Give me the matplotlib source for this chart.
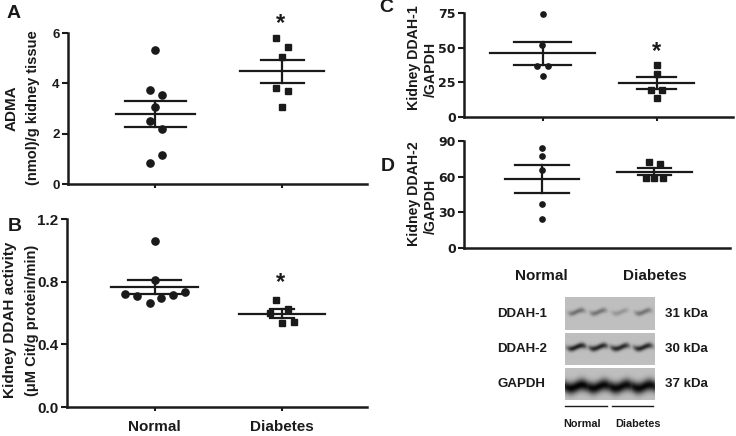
import numpy as np
import matplotlib
matplotlib.use('Agg')
import matplotlib.pyplot as plt
from matplotlib.lines import Line2D

plt.rcParams['font.family'] = ['Liberation Sans', 'DejaVu Sans']
plt.rcParams['font.weight'] = 'bold'

groups = ['Normal', 'Diabetes']

adma_normal = [5.31, 3.73, 3.55, 3.04, 2.51, 2.18, 1.15, 0.82]
adma_diabetes = [5.81, 5.44, 5.05, 3.83, 3.69, 3.06]

ddah_act_normal = [1.058, 0.810, 0.721, 0.706, 0.663, 0.697, 0.714, 0.736]
ddah_act_diabetes = [0.682, 0.601, 0.623, 0.533, 0.542]

ddah1_normal = [74.5, 52.2, 36.5, 36.5, 29.8]
ddah1_diabetes = [37.3, 31.3, 19.7, 19.7, 13.7]

ddah2_normal = [84.4, 77.4, 65.9, 37.0, 24.7]
ddah2_diabetes = [72.3, 70.6, 59.2, 59.2, 59.2]

# relative band strength per lane (Normal, Normal, Diabetes, Diabetes)
blot_rows = ['DDAH-1', 'DDAH-2', 'GAPDH']
blot_sizes = ['31 kDa', '30 kDa', '37 kDa']
blot_lanes = {
    'DDAH-1': [0.42, 0.40, 0.22, 0.40],
    'DDAH-2': [0.85, 0.82, 0.80, 0.82],
    'GAPDH': [1.0, 0.98, 0.97, 0.98],
}

W, H = 736, 436
TXT = '#1a1a1a'
fig = plt.figure(figsize=(W / 100, H / 100), dpi=100)


def px_axes(l, t, r, b):
    return fig.add_axes([l / W, 1 - b / H, (r - l) / W, (b - t) / H])


def style(ax, yticks, fmt, tsize, tfamily=None):
    for s in ['top', 'right']:
        ax.spines[s].set_visible(False)
    for s in ['left', 'bottom']:
        ax.spines[s].set_linewidth(1.8)
        ax.spines[s].set_color(TXT)
    ax.set_xlim(0.31, 2.67)
    ax.set_xticks([1, 2])
    ax.set_xticklabels([])
    ax.set_yticks(yticks)
    ax.set_yticklabels([fmt.format(v) for v in yticks], fontsize=tsize,
                       fontweight='bold', color=TXT, family=tfamily)
    ax.tick_params(axis='y', length=4, width=1.5, pad=2, color=TXT)
    ax.tick_params(axis='x', length=3, width=1.5, color=TXT)
    ax.set_ylim(yticks[0], yticks[-1])


def draw_group(ax, x, vals, offs, marker, ms, mean_hw, sem_hw):
    vals = np.asarray(vals)
    m = vals.mean()
    sem = vals.std(ddof=1) / np.sqrt(len(vals))
    ax.plot(x + np.asarray(offs), vals, marker, color=TXT, ms=ms,
            ls='none', clip_on=False, zorder=3)
    ax.plot([x - mean_hw, x + mean_hw], [m, m], color=TXT, lw=1.6, zorder=4)
    ax.plot([x - sem_hw, x + sem_hw], [m + sem, m + sem], color=TXT, lw=1.6, zorder=4)
    ax.plot([x - sem_hw, x + sem_hw], [m - sem, m - sem], color=TXT, lw=1.6, zorder=4)
    ax.plot([x, x], [m - sem, m + sem], color=TXT, lw=1.6, zorder=4)


# ---- A
axA = px_axes(68, 33, 367, 184)
style(axA, [0, 2, 4, 6], '{:.0f}', 9.5)
draw_group(axA, 1, adma_normal, [0, -0.045, 0.048, 0, -0.045, 0.048, 0.048, -0.045],
           'o', 5.2, 0.31, 0.24)
draw_group(axA, 2, adma_diabetes, [-0.048, 0.045, 0, -0.048, 0.045, 0],
           's', 4.8, 0.33, 0.17)

# ---- B
axB = px_axes(67, 219, 367, 407)
style(axB, [0.0, 0.4, 0.8, 1.2], '{:.1f}', 11)
draw_group(axB, 1, ddah_act_normal, [0, 0, -0.23, -0.137, -0.04, 0.053, 0.145, 0.238],
           'o', 5.2, 0.34, 0.21)
draw_group(axB, 2, ddah_act_diabetes, [-0.048, -0.093, 0.05, 0, 0.098],
           's', 4.8, 0.34, 0.095)
axB.set_xticklabels(groups, fontsize=11, fontweight='bold', color=TXT)
axB.tick_params(axis='x', pad=6)

# ---- C
axC = px_axes(464, 13, 733, 117)
style(axC, [0, 25, 50, 75], '{:.0f}', 9, 'DejaVu Sans')
draw_group(axC, 1, ddah1_normal, [0, -0.01, -0.05, 0.05, 0], 'o', 3.8, 0.46, 0.25)
draw_group(axC, 2, ddah1_diabetes, [0, 0, -0.048, 0.048, 0], 's', 3.8, 0.33, 0.17)

# ---- D
axD = px_axes(464, 141, 730, 248)
style(axD, [0, 30, 60, 90], '{:.0f}', 9, 'DejaVu Sans')
draw_group(axD, 1, ddah2_normal, [0, 0, 0, 0, 0], 'o', 3.8, 0.33, 0.24)
draw_group(axD, 2, ddah2_diabetes, [-0.05, 0.045, -0.072, 0, 0.072], 's', 3.8, 0.33, 0.15)
axD.set_xticklabels(groups, fontsize=11, fontweight='bold', color=TXT)
axD.tick_params(axis='x', pad=15, length=0)


def ftext(x, y, s, **kw):
    kw.setdefault('color', TXT)
    kw.setdefault('fontweight', 'bold')
    fig.text(x / W, 1 - y / H, s, **kw)


# panel letters
ftext(7, 14, 'A', fontsize=14, ha='left', va='center')
ftext(8, 226, 'B', fontsize=14, ha='left', va='center')
ftext(379, 7, 'C', fontsize=14, ha='left', va='center')
ftext(381, 166, 'D', fontsize=14, ha='left', va='center')

# y labels
ftext(12, 108, 'ADMA', fontsize=11, rotation=90, ha='center', va='center')
ftext(33, 108, '(nmol)/g kidney tissue', fontsize=10.5, rotation=90, ha='center', va='center')
ftext(10, 320, 'Kidney DDAH activity', fontsize=11, rotation=90, ha='center', va='center')
ftext(32, 320, '(\u03bcM Cit/g protein/min)', fontsize=10.5, rotation=90, ha='center', va='center')
ftext(414, 58, 'Kidney DDAH-1', fontsize=10.2, rotation=90, ha='center', va='center')
ftext(431, 69, '/GAPDH', fontsize=10.2, rotation=90, ha='center', va='center')
ftext(414, 194, 'Kidney DDAH-2', fontsize=10.2, rotation=90, ha='center', va='center')
ftext(431, 206, '/GAPDH', fontsize=10.2, rotation=90, ha='center', va='center')

# significance marks
ftext(281, 24, '*', fontsize=17, ha='center', va='center')
ftext(281, 283, '*', fontsize=17, ha='center', va='center')
ftext(656, 52, '*', fontsize=17, ha='center', va='center')

# ---- western blot
box_tops = [297, 333, 368]
box_h = [33, 32, 32]
band_y = [0.45, 0.44, 0.58]
band_w = [0.08, 0.09, 0.19]
lane_w = [0.095, 0.11, 0.2]
lane_x = [0.13, 0.37, 0.61, 0.87]
for name, size, top, bh, by, bw, lw_ in zip(blot_rows, blot_sizes, box_tops, box_h,
                                             band_y, band_w, lane_w):
    ax = px_axes(565, top, 655, top + bh)
    yy, xx = np.mgrid[0:1:120j, 0:1:300j]
    img = np.full_like(xx, 0.75)
    dark = np.zeros_like(xx)
    for lx, s in zip(lane_x, blot_lanes[name]):
        prof_x = np.exp(-((xx - lx) / lw_) ** 4)
        prof_y = np.exp(-((yy - by - 0.05 * np.sin(xx * 25)) / bw) ** 2)
        dark = np.maximum(dark, s * prof_x * prof_y)
    img -= 0.74 * dark
    img = np.clip(img, 0.02, 1)
    ax.imshow(img, cmap='gray', vmin=0, vmax=1, aspect='auto',
              extent=[0, 1, 1, 0], interpolation='bilinear')
    ax.set_axis_off()
    ftext(497, top + bh / 2, name, fontsize=9.5, ha='left', va='center')
    ftext(665, top + bh / 2, size, fontsize=9.5, ha='left', va='center')

for x0, x1 in [(565, 607), (612, 653)]:
    fig.add_artist(Line2D([x0 / W, x1 / W], [1 - 406 / H, 1 - 406 / H],
                          color=TXT, lw=1.0, transform=fig.transFigure))
ftext(582, 424, 'Normal', fontsize=7.8, ha='center', va='center')
ftext(638, 424, 'Diabetes', fontsize=7.8, ha='center', va='center')

fig.savefig('out.png', dpi=100, facecolor='white')
